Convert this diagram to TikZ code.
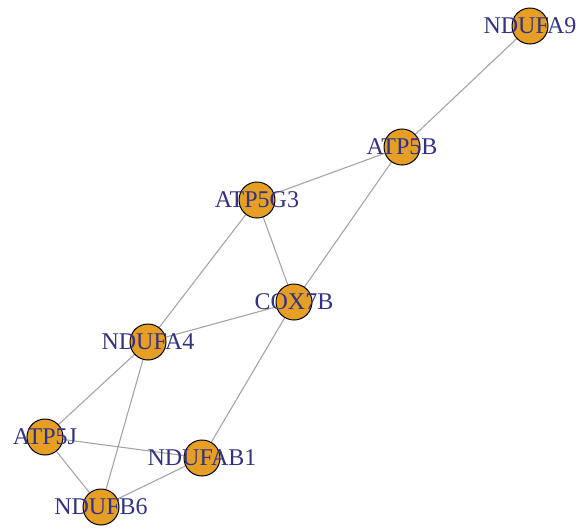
\documentclass[tikz,border=0pt]{standalone}
\usepackage{fontspec}
\setmainfont{Liberation Serif}
\usetikzlibrary{positioning,backgrounds}
\definecolor{gene}{RGB}{230,159,37}
\definecolor{lblcol}{RGB}{50,50,128}
\definecolor{edgecol}{RGB}{165,165,165}

\begin{document}
\begin{tikzpicture}[x=1pt, y=-1pt,
  gene/.style={circle, draw=black, fill=gene, line width=1pt,
               minimum size=36pt, inner sep=0pt},
  glabel/.style={text=lblcol, font=\fontsize{24}{24}\selectfont, inner sep=0pt},
  link/.style={draw=edgecol, line width=1.1pt},
]
\useasboundingbox (0,0) rectangle (578,531);

% Gene nodes
\node[gene] (NDUFA9)  at (530,26)  {};
\node[gene] (ATP5B)   at (402,147) {};
\node[gene] (ATP5G3)  at (257,200) {};
\node[gene] (COX7B)   at (294,302) {};
\node[gene] (NDUFA4)  at (148,342) {};
\node[gene] (ATP5J)   at (45,437)  {};
\node[gene] (NDUFAB1) at (202,458) {};
\node[gene] (NDUFB6)  at (101,507) {};

% Edges, kept behind the nodes
\begin{scope}[on background layer]
\foreach \a/\b in {NDUFA9/ATP5B, ATP5B/ATP5G3, ATP5B/COX7B, ATP5G3/COX7B,
                   ATP5G3/NDUFA4, NDUFA4/COX7B, COX7B/NDUFAB1, NDUFA4/ATP5J,
                   NDUFA4/NDUFB6, ATP5J/NDUFAB1, ATP5J/NDUFB6, NDUFB6/NDUFAB1}
  \draw[link] (\a) -- (\b);
\end{scope}

% Labels centred on the nodes
\foreach \n in {NDUFA9, ATP5B, ATP5G3, COX7B, NDUFA4, ATP5J, NDUFAB1, NDUFB6}
  \node[glabel] (\n-lbl) at (\n.center) {\n};

\end{tikzpicture}
\end{document}
